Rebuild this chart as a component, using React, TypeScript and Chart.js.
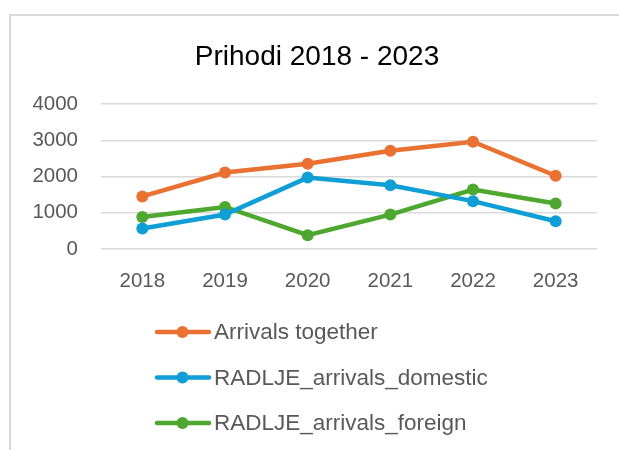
import React, { useEffect, useRef } from "react";
import { Chart, registerables } from "chart.js";

Chart.register(...registerables);

const categories = ["2018", "2019", "2020", "2021", "2022", "2023"];
const arrivalsTogether = [1450, 2110, 2350, 2710, 2960, 2020];
const arrivalsDomestic = [565, 950, 1970, 1760, 1320, 765];
const arrivalsForeign = [885, 1160, 380, 950, 1640, 1255];
const seriesNames = ["Arrivals together", "RADLJE_arrivals_domestic", "RADLJE_arrivals_foreign"];
const seriesColors = ["#E97132", "#0F9ED5", "#4EA72E"];
const titleText = "Prihodi 2018 - 2023";

const FONT = "'Liberation Sans', Arial, sans-serif";

const titlePlugin = {
  id: "ctitle",
  afterDraw(chart: any) {
    const ctx = chart.ctx;
    ctx.save();
    ctx.fillStyle = "#000000";
    ctx.font = `28px ${FONT}`;
    ctx.textAlign = "center";
    ctx.textBaseline = "alphabetic";
    ctx.fillText(titleText, 317, chart.chartArea.top - 39);
    ctx.restore();
  },
};

const legendPlugin = {
  id: "vlegend",
  afterDraw(chart: any) {
    const ctx = chart.ctx;
    const base = chart.chartArea.bottom;
    chart.data.datasets.forEach((ds: any, i: number) => {
      const y = base + 83 + i * 45.5;
      ctx.save();
      ctx.strokeStyle = ds.borderColor;
      ctx.lineWidth = 4.5;
      ctx.lineCap = "round";
      ctx.beginPath();
      ctx.moveTo(157, y);
      ctx.lineTo(209, y);
      ctx.stroke();
      ctx.fillStyle = ds.borderColor;
      ctx.beginPath();
      ctx.arc(182.5, y, 6, 0, Math.PI * 2);
      ctx.fill();
      ctx.fillStyle = "#595959";
      ctx.font = `22.5px ${FONT}`;
      ctx.textBaseline = "middle";
      ctx.textAlign = "left";
      ctx.fillText(ds.label, 214, y + 1);
      ctx.restore();
    });
  },
};

export default function App() {
  const ref = useRef<HTMLCanvasElement>(null);
  useEffect(() => {
    const values = [arrivalsTogether, arrivalsDomestic, arrivalsForeign];
    const chart = new Chart(ref.current!, {
      type: "line",
      data: {
        labels: categories,
        datasets: values.map((v, i) => ({
          label: seriesNames[i],
          data: v,
          borderColor: seriesColors[i],
          backgroundColor: seriesColors[i],
          pointBackgroundColor: seriesColors[i],
          pointBorderColor: seriesColors[i],
          borderWidth: 4.5,
          pointRadius: 6,
          pointBorderWidth: 0,
          tension: 0,
        })),
      },
      options: {
        responsive: false,
        animation: false,
        events: [],
        layout: { padding: { left: 0, right: 22, top: 104, bottom: 151 } },
        plugins: {
          legend: { display: false },
          tooltip: { enabled: false },
          title: { display: false },
        },
        scales: {
          x: {
            offset: true,
            grid: { display: false, drawTicks: false },
            border: { display: false },
            ticks: { color: "#595959", font: { family: FONT, size: 20.5 }, padding: 20 },
            afterFit: (s: any) => { s.height = 50; },
          },
          y: {
            min: 0,
            max: 4000,
            ticks: {
              stepSize: 1000,
              color: "#595959",
              font: { family: FONT, size: 20.5 },
              padding: 23,
              callback: (v: any) => String(v),
            },
            grid: { color: "#D9D9D9", lineWidth: 1.5, drawTicks: false },
            border: { display: false },
            afterFit: (s: any) => { s.width = 101; },
          },
        },
      },
      plugins: [titlePlugin, legendPlugin],
    });
    return () => chart.destroy();
  }, []);
  return (
    <div>
      <div
        style={{
          position: "fixed",
          left: 9,
          top: 14,
          width: 700,
          height: 500,
          border: "2px solid #D9D9D9",
          boxSizing: "border-box",
        }}
      />
      <canvas
        ref={ref}
        width={619}
        height={450}
        style={{ position: "fixed", left: 0, top: 0, width: 619, height: 450 }}
      />
    </div>
  );
}
